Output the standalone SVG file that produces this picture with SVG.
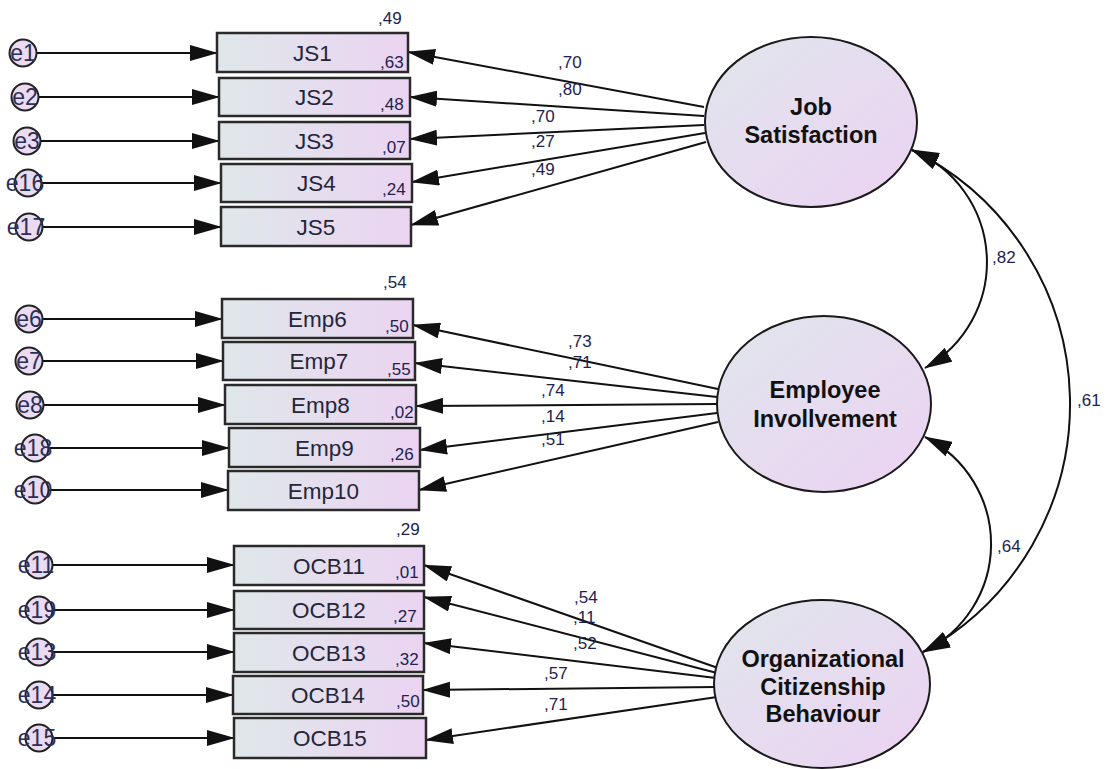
<svg xmlns="http://www.w3.org/2000/svg" width="1107" height="769" viewBox="0 0 1107 769">
  <defs>
    <linearGradient id="boxFill" x1="0" y1="0" x2="1" y2="0">
      <stop offset="0" stop-color="#dfe7ea"/>
      <stop offset="1" stop-color="#ebd4f2"/>
    </linearGradient>
    <linearGradient id="latentFill" x1="0" y1="0" x2="1" y2="1">
      <stop offset="0" stop-color="#e0e6ec"/>
      <stop offset="1" stop-color="#ecd2f3"/>
    </linearGradient>
    <marker id="ah" markerUnits="userSpaceOnUse" viewBox="0 0 28 16" markerWidth="28" markerHeight="16" refX="27" refY="8" orient="auto-start-reverse">
      <path d="M0,0 L28,8 L0,16 z" fill="#111"/>
    </marker>
    <style>
      .obs { fill: url(#boxFill); stroke: #2a2a2a; stroke-width: 2.5; }
      .lat { fill: url(#latentFill); stroke: #1a1a1a; stroke-width: 2; }
      .err { fill: #eadaf2; stroke: #222; stroke-width: 2; }
      .obsT { font-family: "Liberation Sans", Arial, sans-serif; font-size: 22.5px; fill: #25253a; text-anchor: middle; }
      .latT { font-family: "Liberation Sans", Arial, sans-serif; font-size: 23.5px; font-weight: bold; fill: #111; text-anchor: middle; }
      .errT { font-family: "Liberation Sans", Arial, sans-serif; font-size: 23px; fill: #2a2f55; text-anchor: middle; }
      .num { font-family: "Liberation Sans", Arial, sans-serif; font-size: 17px; fill: #1e2250; }
      .edge { stroke: #111; stroke-width: 2; fill: none; marker-end: url(#ah); }
      .cov { stroke: #111; stroke-width: 2; fill: none; marker-start: url(#ah); marker-end: url(#ah); }
    </style>
  </defs>

  <rect width="1107" height="769" fill="#fff"/>

  <!-- paths: errors to indicators, factors to indicators, factor covariances -->
  <g id="connectors">
    <line class="edge" x1="36" y1="53" x2="217" y2="53"/>
    <line class="edge" x1="38" y1="97" x2="219" y2="97"/>
    <line class="edge" x1="40" y1="141" x2="219" y2="141"/>
    <line class="edge" x1="41" y1="183" x2="221" y2="183"/>
    <line class="edge" x1="42" y1="227" x2="221" y2="227"/>

    <line class="edge" x1="42" y1="319" x2="222" y2="319"/>
    <line class="edge" x1="42" y1="361" x2="223" y2="361"/>
    <line class="edge" x1="43" y1="405" x2="225" y2="405"/>
    <line class="edge" x1="48" y1="448" x2="229" y2="448"/>
    <line class="edge" x1="48" y1="490" x2="228" y2="490"/>

    <line class="edge" x1="52" y1="565" x2="234" y2="565"/>
    <line class="edge" x1="52" y1="610" x2="234" y2="610"/>
    <line class="edge" x1="52" y1="652" x2="234" y2="652"/>
    <line class="edge" x1="52" y1="695" x2="233" y2="695"/>
    <line class="edge" x1="52" y1="738" x2="234" y2="738"/>

    <line class="edge" x1="704" y1="107" x2="408" y2="52"/>
    <line class="edge" x1="704" y1="116" x2="410" y2="97"/>
    <line class="edge" x1="704" y1="125" x2="410" y2="139"/>
    <line class="edge" x1="705" y1="133" x2="412" y2="182"/>
    <line class="edge" x1="706" y1="142" x2="411" y2="225"/>

    <line class="edge" x1="718" y1="389" x2="413" y2="325"/>
    <line class="edge" x1="717" y1="397" x2="415" y2="363"/>
    <line class="edge" x1="717" y1="404" x2="416" y2="406"/>
    <line class="edge" x1="717" y1="413" x2="420" y2="450"/>
    <line class="edge" x1="718" y1="422" x2="419" y2="490"/>

    <line class="edge" x1="718" y1="668" x2="424" y2="565"/>
    <line class="edge" x1="717" y1="673" x2="424" y2="597"/>
    <line class="edge" x1="716" y1="678" x2="424" y2="643"/>
    <line class="edge" x1="716" y1="687" x2="423" y2="690"/>
    <line class="edge" x1="717" y1="697" x2="426" y2="740"/>

    <path class="cov" d="M912 150 A121.4 121.4 0 0 1 925 368"/>
    <path class="cov" d="M925 437 A119.7 119.7 0 0 1 923 652"/>
    <path class="cov" d="M912 150 A282.9 282.9 0 0 1 923 652"/>

    <g class="num">
      <text x="558" y="68">,70</text>
      <text x="558" y="95">,80</text>
      <text x="531" y="122">,70</text>
      <text x="531" y="147">,27</text>
      <text x="531" y="175">,49</text>

      <text x="568" y="347">,73</text>
      <text x="568" y="368">,71</text>
      <text x="541" y="396">,74</text>
      <text x="541" y="422">,14</text>
      <text x="541" y="445">,51</text>

      <text x="574" y="603">,54</text>
      <text x="573" y="623">,11</text>
      <text x="573" y="649">,52</text>
      <text x="544" y="679">,57</text>
      <text x="544" y="710">,71</text>

      <text x="992" y="263">,82</text>
      <text x="997" y="552">,64</text>
      <text x="1077" y="406">,61</text>
    </g>
  </g>

  <!-- error terms -->
  <g id="e1"><circle class="err" cx="23" cy="53" r="13.5"/><text class="errT" x="23" y="61">e1</text></g>
  <g id="e2"><circle class="err" cx="25" cy="97" r="13.5"/><text class="errT" x="25" y="105">e2</text></g>
  <g id="e3"><circle class="err" cx="27" cy="141" r="13.5"/><text class="errT" x="27" y="149">e3</text></g>
  <g id="e16"><circle class="err" cx="28" cy="183" r="13.5"/><text class="errT" x="25" y="191">e16</text></g>
  <g id="e17"><circle class="err" cx="29" cy="227" r="13.5"/><text class="errT" x="26" y="235">e17</text></g>

  <g id="e6"><circle class="err" cx="29" cy="319" r="13.5"/><text class="errT" x="29" y="327">e6</text></g>
  <g id="e7"><circle class="err" cx="29" cy="361" r="13.5"/><text class="errT" x="29" y="369">e7</text></g>
  <g id="e8"><circle class="err" cx="30" cy="405" r="13.5"/><text class="errT" x="30" y="413">e8</text></g>
  <g id="e18"><circle class="err" cx="35" cy="448" r="13.5"/><text class="errT" x="33" y="456">e18</text></g>
  <g id="e10"><circle class="err" cx="35" cy="490" r="13.5"/><text class="errT" x="33" y="498">e10</text></g>

  <g id="e11"><circle class="err" cx="39" cy="565" r="13.5"/><text class="errT" x="36" y="573">e11</text></g>
  <g id="e19"><circle class="err" cx="39" cy="610" r="13.5"/><text class="errT" x="37" y="618">e19</text></g>
  <g id="e13"><circle class="err" cx="39" cy="652" r="13.5"/><text class="errT" x="37" y="660">e13</text></g>
  <g id="e14"><circle class="err" cx="39" cy="695" r="13.5"/><text class="errT" x="37" y="703">e14</text></g>
  <g id="e15"><circle class="err" cx="39" cy="738" r="13.5"/><text class="errT" x="37" y="746">e15</text></g>

  <!-- observed indicators -->
  <g id="JS1"><rect class="obs" x="217" y="33" width="191" height="39"/><text class="obsT" x="312.5" y="61">JS1</text></g>
  <g id="JS2"><rect class="obs" x="219" y="78" width="191" height="38"/><text class="obsT" x="314.5" y="105">JS2</text></g>
  <g id="JS3"><rect class="obs" x="219" y="122" width="191" height="37"/><text class="obsT" x="314.5" y="149">JS3</text></g>
  <g id="JS4"><rect class="obs" x="221" y="164" width="191" height="38"/><text class="obsT" x="316.5" y="191">JS4</text></g>
  <g id="JS5"><rect class="obs" x="221" y="207" width="190" height="39"/><text class="obsT" x="316" y="235">JS5</text></g>

  <g id="Emp6"><rect class="obs" x="222" y="299" width="191" height="39"/><text class="obsT" x="317.5" y="327">Emp6</text></g>
  <g id="Emp7"><rect class="obs" x="223" y="342" width="192" height="38"/><text class="obsT" x="319" y="369">Emp7</text></g>
  <g id="Emp8"><rect class="obs" x="225" y="385" width="191" height="39"/><text class="obsT" x="320.5" y="413">Emp8</text></g>
  <g id="Emp9"><rect class="obs" x="229" y="428" width="191" height="39"/><text class="obsT" x="324.5" y="456">Emp9</text></g>
  <g id="Emp10"><rect class="obs" x="228" y="471" width="191" height="39"/><text class="obsT" x="323.5" y="499">Emp10</text></g>

  <g id="OCB11"><rect class="obs" x="234" y="546" width="190" height="39"/><text class="obsT" x="329" y="574">OCB11</text></g>
  <g id="OCB12"><rect class="obs" x="234" y="591" width="190" height="38"/><text class="obsT" x="329" y="618">OCB12</text></g>
  <g id="OCB13"><rect class="obs" x="234" y="633" width="190" height="39"/><text class="obsT" x="329" y="661">OCB13</text></g>
  <g id="OCB14"><rect class="obs" x="233" y="676" width="190" height="38"/><text class="obsT" x="328" y="703">OCB14</text></g>
  <g id="OCB15"><rect class="obs" x="234" y="718" width="192" height="40"/><text class="obsT" x="330" y="746">OCB15</text></g>

  <!-- squared multiple correlations -->
  <g id="r2" class="num">
    <text x="378" y="24">,49</text>
    <text x="380" y="68">,63</text>
    <text x="380" y="110">,48</text>
    <text x="382" y="153">,07</text>
    <text x="382" y="195">,24</text>
    <text x="383" y="288">,54</text>
    <text x="385" y="332">,50</text>
    <text x="387" y="375">,55</text>
    <text x="390" y="418">,02</text>
    <text x="390" y="460">,26</text>
    <text x="396" y="535">,29</text>
    <text x="395" y="578">,01</text>
    <text x="393" y="622">,27</text>
    <text x="395" y="665">,32</text>
    <text x="396" y="707">,50</text>
  </g>

  <!-- latent factors -->
  <g id="JobSatisfaction">
    <ellipse class="lat" cx="811" cy="122" rx="106" ry="85"/>
    <text class="latT" x="811" y="115">Job</text>
    <text class="latT" x="811" y="143">Satisfaction</text>
  </g>
  <g id="EmployeeInvolvement">
    <ellipse class="lat" cx="824" cy="404" rx="107" ry="88"/>
    <text class="latT" x="825" y="398">Employee</text>
    <text class="latT" x="825" y="427">Invollvement</text>
  </g>
  <g id="OCB">
    <ellipse class="lat" cx="822" cy="684" rx="108" ry="84"/>
    <text class="latT" x="823" y="667">Organizational</text>
    <text class="latT" x="823" y="695">Citizenship</text>
    <text class="latT" x="823" y="722">Behaviour</text>
  </g>
</svg>
